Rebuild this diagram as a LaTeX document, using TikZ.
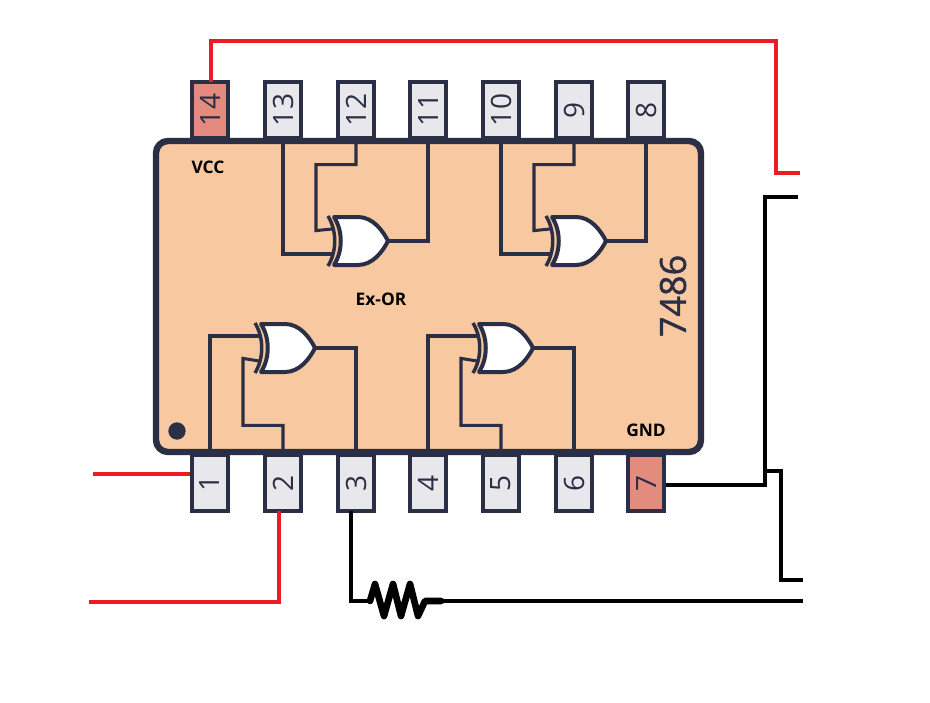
\documentclass[tikz,border=0pt]{standalone}
\usepackage{fontspec}
\setmainfont{Open Sans}
\newfontfamily\partfont[FakeBold = 1.2]{Open Sans}

\definecolor{ink}{HTML}{2B2F45}
\definecolor{chip}{HTML}{F8C9A0}
\definecolor{pinfill}{HTML}{E7E7EC}
\definecolor{pinpower}{HTML}{E28B7E}
\definecolor{wirered}{HTML}{ED1C24}

\tikzset{
	pin/.style = {draw = ink, line width = 2.4pt, rectangle, inner sep = 0, minimum width = 27pt, minimum height = 42pt, text = ink, font = \fontsize{21}{21}\selectfont},
	gatewire/.style = {draw = ink, line width = 2.3pt, line join = miter},
	redwire/.style = {draw = wirered, line width = 3.6pt},
	blackwire/.style = {draw = black, line width = 3.6pt},
	caption/.style = {text = black, font = \fontsize{13}{13}\selectfont\bfseries},
	pics/xorgate/.style = {code = {
		\draw [line width = 3pt, draw = ink, fill = white, line join = round] (-54, -24) -- (-30, -24) .. controls (-15, -24) and (-5, -10) .. (0, 0) .. controls (-5, 10) and (-15, 24) .. (-30, 24) -- (-54, 24) .. controls (-45, 10) and (-45, -10) .. (-54, -24) -- cycle;
		\draw [line width = 2.6pt, draw = ink] (-60, -25) .. controls (-51, -10) and (-51, 10) .. (-60, 25);
		\coordinate (-a) at (-56, -12);
		\coordinate (-b) at (-56, 13);
		\coordinate (-out) at (0, 0);
	}}
}

\begin{document}
\begin{tikzpicture}[x = 0.75pt, y = -0.75pt]

	\useasboundingbox (0, 0) rectangle (930, 702);

	% The pins
	
	\foreach \x/\n/\c in {210/14/pinpower, 283/13/pinfill, 356/12/pinfill, 428/11/pinfill, 501/10/pinfill, 574/9/pinfill, 646/8/pinfill}
	{
		\node [pin, fill = \c] (p\n) at (\x, 110) {\rotatebox{90}{\n}};
	}
	
	\foreach \x/\n/\c in {210/1/pinfill, 283/2/pinfill, 356/3/pinfill, 428/4/pinfill, 501/5/pinfill, 574/6/pinfill, 646/7/pinpower}
	{
		\node [pin, fill = \c] (p\n) at (\x, 483) {\rotatebox{90}{\n}};
	}
	
	% The package
	
	\draw [draw = ink, fill = chip, line width = 4.8pt, rounded corners = 9pt] (156, 141) rectangle (701, 452);
	\fill [ink] (177, 431) circle (6.5pt);
	
	\node [caption] (vcc) at (208, 167) {VCC};
	\node [caption] (gnd) at (646, 430) {GND};
	\node [caption] (type) at (381, 299) {Ex-OR};
	\node [text = ink, rotate = 90, font = \fontsize{27}{27}\partfont] (part) at (673, 296) {7486};
	
	% The gates
	
	\pic (ga) at (388, 241) {xorgate};
	\pic (gb) at (606, 241) {xorgate};
	\pic (gc) at (315, 348) {xorgate};
	\pic (gd) at (533, 348) {xorgate};
	
	\begin{scope}[gatewire]
	
		\draw (p13.south) |- (ga-b);
		\draw (p12.south) -- ++ (0, 25) -| ++ (-40, 66) -- (ga-a);
		\draw (p11.south) |- (ga-out);
		
		\draw (p10.south) |- (gb-b);
		\draw (p9.south) -- ++ (0, 25) -| ++ (-40, 66) -- (gb-a);
		\draw (p8.south) |- (gb-out);
		
		\draw (p1.north) |- (gc-a);
		\draw (p2.north) -- ++ (0, -28) -| ++ (-40, -67) -- (gc-b);
		\draw (p3.north) |- (gc-out);
		
		\draw (p4.north) |- (gd-a);
		\draw (p5.north) -- ++ (0, -28) -| ++ (-40, -67) -- (gd-b);
		\draw (p6.north) |- (gd-out);
		
	\end{scope}
	
	% The outside wiring
	
	\coordinate (vccend) at (800, 173);
	\coordinate (gndend) at (798, 197);
	\coordinate (branch) at (765, 471);
	\coordinate (branchend) at (803, 580);
	\coordinate (outend) at (803, 601);
	\coordinate (ina) at (93, 474);
	\coordinate (inb) at (89, 602);
	
	\draw [redwire] (211, 82) |- (776, 41) |- (vccend);
	\draw [redwire] (ina) -- (ina -| p1.west);
	\draw [redwire] (279, 511) |- (inb);
	
	\draw [blackwire] (p7.east) ++ (0, 2) -| (branch) |- (gndend);
	\draw [blackwire] (branch) -| (781, 580) -- (branchend);
	
	\draw [blackwire] (351, 511) |- (370, 601);
	\draw [black, line width = 5pt, line join = round, line cap = round] (370, 601) -- (375, 584) -- (384, 616) -- (393, 584) -- (401, 616) -- (410, 584) -- (418, 616) -- (425, 601) -- (441, 601);
	\draw [blackwire] (441, 601) -- (outend);

\end{tikzpicture}
\end{document}
